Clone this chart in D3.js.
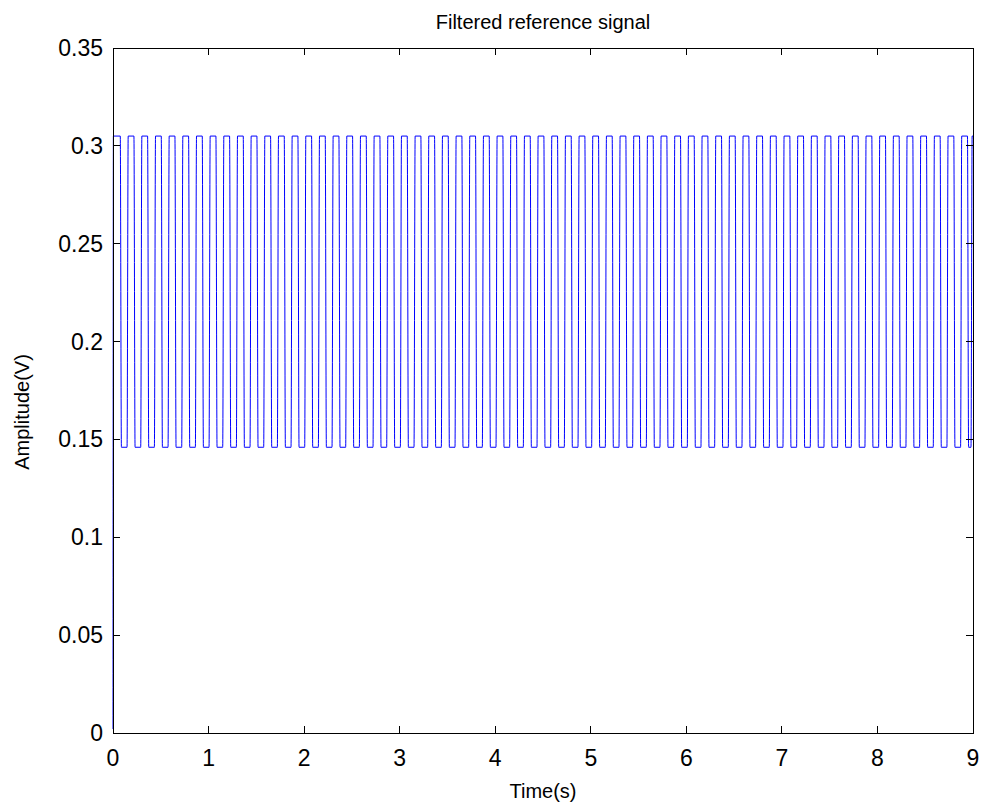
<!DOCTYPE html>
<html>
<head>
<meta charset="utf-8">
<script src="https://cdn.jsdelivr.net/npm/d3@7"></script>
<style>
  body { margin: 0; background: #fff; }
  text { font-family: Arial, "Liberation Sans", sans-serif; fill: #000; }
</style>
</head>
<body>
<script>
// rising / falling edge times of the pulses (s)
var riseTimes = [0.153,0.296,0.439,0.582,0.725,0.868,1.011,1.154,1.297,1.440,
  1.583,1.726,1.869,2.012,2.155,2.298,2.441,2.584,2.727,2.870,
  3.013,3.156,3.299,3.442,3.585,3.728,3.871,4.014,4.157,4.300,
  4.443,4.586,4.729,4.872,5.015,5.158,5.301,5.444,5.587,5.730,
  5.873,6.016,6.159,6.302,6.445,6.588,6.731,6.874,7.017,7.160,
  7.303,7.446,7.589,7.732,7.875,8.018,8.161,8.304,8.447,8.590,
  8.733,8.876,8.985];
var fallTimes = [0.082,0.225,0.368,0.511,0.654,0.797,0.940,1.083,1.226,1.369,1.512,
  1.655,1.798,1.941,2.084,2.227,2.370,2.513,2.656,2.799,2.942,
  3.085,3.228,3.371,3.514,3.657,3.800,3.943,4.086,4.229,4.372,
  4.515,4.658,4.801,4.944,5.087,5.230,5.373,5.516,5.659,5.802,
  5.945,6.088,6.231,6.374,6.517,6.660,6.803,6.946,7.089,7.232,
  7.375,7.518,7.661,7.804,7.947,8.090,8.233,8.376,8.519,8.662,
  8.805,8.948];
var highLevel = 0.305;
var lowLevel = 0.146;
var startValue = 0.002;
var endTime = 9;

var xTicks = [0,1,2,3,4,5,6,7,8,9];
var yTicks = [0,0.05,0.1,0.15,0.2,0.25,0.3,0.35];

var W = 991, H = 810;
var margin = {left: 113, right: 18, top: 48, bottom: 77};

var svg = d3.select("body").append("svg")
    .attr("width", W)
    .attr("height", H);

var x = d3.scaleLinear().domain([0, 9]).range([margin.left, W - margin.right]);
var y = d3.scaleLinear().domain([0, 0.35]).range([H - margin.bottom, margin.top]);

// build the step signal from the edge lists
var pts = [[0, startValue], [0.004, highLevel]];
var edges = [];
riseTimes.forEach(function(t){ edges.push({t: t, up: true}); });
fallTimes.forEach(function(t){ edges.push({t: t, up: false}); });
edges.sort(function(a, b){ return a.t - b.t; });
var d = 0.006;
edges.forEach(function(e){
    if (e.up) {
        pts.push([e.t - d, lowLevel]);
        pts.push([e.t + d, highLevel]);
    } else {
        pts.push([e.t - d, highLevel]);
        pts.push([e.t + d, lowLevel]);
    }
});
var last = pts[pts.length - 1];
if (last[0] < endTime) pts.push([endTime, last[1]]);

var line = d3.line()
    .x(function(p){ return x(p[0]); })
    .y(function(p){ return y(p[1]); })
    .curve(d3.curveMonotoneX);

svg.append("path")
    .attr("d", line(pts))
    .attr("fill", "none")
    .attr("stroke", "#0000ff")
    .attr("stroke-width", 1);

// box + inward ticks (matlab style)
var tl = 7;
var g = svg.append("g").attr("stroke", "#000").attr("stroke-width", 1).attr("shape-rendering", "crispEdges");
g.append("rect")
    .attr("x", x(0)).attr("y", y(0.35))
    .attr("width", x(9) - x(0)).attr("height", y(0) - y(0.35))
    .attr("fill", "none");
xTicks.forEach(function(t){
    g.append("line").attr("x1", x(t)).attr("x2", x(t)).attr("y1", y(0)).attr("y2", y(0) - tl);
    g.append("line").attr("x1", x(t)).attr("x2", x(t)).attr("y1", y(0.35)).attr("y2", y(0.35) + tl);
});
yTicks.forEach(function(t){
    g.append("line").attr("x1", x(0)).attr("x2", x(0) + tl).attr("y1", y(t)).attr("y2", y(t));
    g.append("line").attr("x1", x(9)).attr("x2", x(9) - tl).attr("y1", y(t)).attr("y2", y(t));
});

svg.selectAll(".xl").data(xTicks).enter().append("text")
    .attr("x", function(t){ return x(t); })
    .attr("y", y(0) + 33)
    .attr("text-anchor", "middle")
    .style("font-size", "23px")
    .text(function(t){ return t; });

svg.selectAll(".yl").data(yTicks).enter().append("text")
    .attr("x", x(0) - 10)
    .attr("y", function(t){ return y(t) + 8; })
    .attr("text-anchor", "end")
    .style("font-size", "23px")
    .text(function(t){ return t; });

svg.append("text")
    .attr("x", (x(0) + x(9)) / 2).attr("y", 29)
    .attr("text-anchor", "middle")
    .style("font-size", "20px")
    .text("Filtered reference signal");

svg.append("text")
    .attr("x", (x(0) + x(9)) / 2).attr("y", 798)
    .attr("text-anchor", "middle")
    .style("font-size", "20px")
    .text("Time(s)");

svg.append("text")
    .attr("transform", "translate(29,412) rotate(-90)")
    .attr("text-anchor", "middle")
    .style("font-size", "20px")
    .text("Amplitude(V)");
</script>
</body>
</html>
